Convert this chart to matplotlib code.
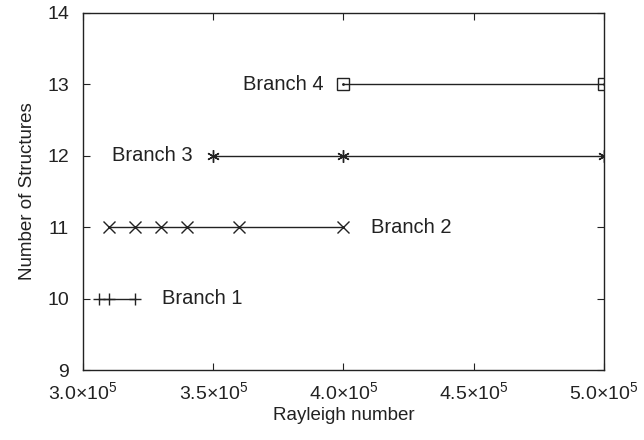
import matplotlib
matplotlib.use("Agg")
import matplotlib.pyplot as plt
from matplotlib.ticker import FuncFormatter

plt.rcParams['font.family'] = ['Liberation Sans', 'DejaVu Sans']
plt.rcParams['mathtext.default'] = 'regular'

branch1_x = [3.06e5, 3.10e5, 3.20e5]
branch1_y = [10, 10, 10]
branch2_x = [3.1e5, 3.2e5, 3.3e5, 3.4e5, 3.6e5, 4.0e5]
branch2_y = [11, 11, 11, 11, 11, 11]
branch3_x = [3.5e5, 4.0e5, 5.0e5]
branch3_y = [12, 12, 12]
branch4_x = [4.0e5, 5.0e5]
branch4_y = [13, 13]

labels = ["Branch 1", "Branch 2", "Branch 3", "Branch 4"]
label_x = [3.303e5, 4.105e5, 3.422e5, 3.925e5]
label_y = [10, 11, 12, 13]
label_ha = ["left", "left", "right", "right"]

x_ticks = [3.0e5, 3.5e5, 4.0e5, 4.5e5, 5.0e5]
y_ticks = [9, 10, 11, 12, 13, 14]

fig = plt.figure(figsize=(6.44, 4.40), dpi=100)
ax = fig.add_axes([83/644, 1 - 370/440, (604-83)/644, (370-13)/440])

lc = '#222222'
ax.plot(branch1_x, branch1_y, color=lc, lw=1.0, marker='+', ms=8, mew=1.0)
ax.plot(branch2_x, branch2_y, color=lc, lw=1.0, marker='x', ms=8.5, mew=1.0)
ax.plot(branch3_x, branch3_y, color=lc, lw=1.0, marker=(6, 2, 0), ms=9, mew=1.0)
ax.plot(branch4_x, branch4_y, color=lc, lw=1.0, marker='s', ms=8.5, mew=1.0,
        mfc='none')
ax.plot(branch4_x, branch4_y, color=lc, lw=0, marker='.', ms=2)

for t, x, y, ha in zip(labels, label_x, label_y, label_ha):
    ax.text(x, y, t, ha=ha, va='center', fontsize=14.5, color='#222222')

ax.set_xlim(3.0e5, 5.0e5)
ax.set_ylim(9, 14)
ax.set_xticks(x_ticks)
ax.set_yticks(y_ticks)

def fmt(v, pos):
    return r"%.1f$\times$10$^{5}$" % (v / 1e5)

ax.xaxis.set_major_formatter(FuncFormatter(fmt))
ax.tick_params(direction='in', top=True, right=True, length=5, width=0.8,
               labelsize=14, colors='#222222')
ax.tick_params(axis='x', pad=8)
ax.tick_params(axis='y', pad=10)
for s in ax.spines.values():
    s.set_linewidth(1.0)
    s.set_color('#222222')

ax.set_xlabel("Rayleigh number", fontsize=13.5, color='#222222', labelpad=3)
ax.set_ylabel("Number of Structures", fontsize=13.5, color='#222222', labelpad=8)

fig.savefig("out.png", dpi=100)
